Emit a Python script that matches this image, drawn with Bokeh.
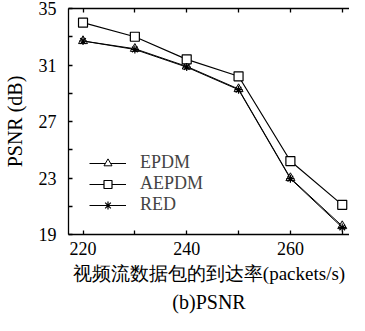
from bokeh.plotting import figure
from bokeh.models import (FixedTicker, LinearAxis, Range1d, Legend, LegendItem)
from bokeh.embed import file_html
from bokeh.resources import INLINE

# ---- data ----
rates = [220, 230, 240, 250, 260, 270]
epdm = [32.7, 32.15, 30.9, 29.3, 23.0, 19.6]
aepdm = [34.0, 33.0, 31.4, 30.2, 24.2, 21.1]
red = [32.7, 32.1, 30.85, 29.25, 22.95, 19.5]

y_ticks = [19, 21, 23, 25, 27, 29, 31, 33, 35]
y_labels = [19, 23, 27, 31, 35]
x_ticks = [220, 230, 240, 250, 260, 270]
x_labels = [220, 240, 260]

x_title = "视频流数据包的到达率(packets/s)"
y_title = "PSNR (dB)"
caption = "(b)PSNR"

SERIF = "Liberation Serif"

p = figure(width=349, height=315, output_backend="svg", toolbar_location=None,
           x_range=Range1d(217.2, 271.4), y_range=Range1d(19, 35),
           x_axis_location="below", y_axis_location="left",
           min_border_left=0, min_border_right=0, min_border_top=8, min_border_bottom=81)
p.outline_line_color = None
p.grid.visible = False
p.background_fill_color = "white"
p.border_fill_color = "white"

# axes
xa = p.xaxis[0]
xa.ticker = FixedTicker(ticks=x_ticks)
xa.major_label_overrides = {t: (str(t) if t in x_labels else "") for t in x_ticks}
xa.axis_label = x_title
ya = p.yaxis[0]
ya.ticker = FixedTicker(ticks=y_ticks)
ya.major_label_overrides = {t: (str(t) if t in y_labels else "") for t in y_ticks}
ya.axis_label = y_title

top = LinearAxis(ticker=FixedTicker(ticks=x_ticks),
                 major_label_overrides={t: "" for t in x_ticks})
p.add_layout(top, "above")

for ax in (xa, ya, top):
    ax.major_tick_in = 4
    ax.major_tick_out = 0
    ax.minor_tick_in = 0
    ax.minor_tick_out = 0
    ax.axis_line_width = 1.3
    ax.major_tick_line_width = 1.3
    ax.axis_line_color = "black"
    ax.major_tick_line_color = "black"
    ax.major_label_text_font = SERIF
    ax.major_label_text_font_size = "18px"
    ax.major_label_text_color = "black"
top.major_label_standoff = 0
top.major_label_text_font_size = "1px"
xa.major_label_standoff = 7
ya.major_label_standoff = 12
xa.axis_label_text_font = SERIF
xa.axis_label_text_font_size = "19px"
xa.axis_label_text_font_style = "normal"
xa.axis_label_text_color = "black"
xa.axis_label_standoff = 5
ya.axis_label_text_font = SERIF
ya.axis_label_text_font_size = "20px"
ya.axis_label_text_font_style = "normal"
ya.axis_label_text_color = "black"
ya.axis_label_standoff = 10

# caption below the x axis title, as the label of a bare extra axis
cap_axis = LinearAxis(ticker=FixedTicker(ticks=[]), axis_line_color=None,
                      major_tick_in=0, major_tick_out=0, minor_tick_in=0, minor_tick_out=0,
                      major_label_standoff=0, axis_label=caption, axis_label_standoff=4,
                      axis_label_text_font=SERIF, axis_label_text_font_size="20px",
                      axis_label_text_font_style="normal", axis_label_text_color="black")
p.add_layout(cap_axis, "below")

# series
l1 = p.line(rates, epdm, line_color="black", line_width=1)
m1 = p.scatter(rates, epdm, marker="triangle", size=9, line_color="black",
               fill_color="white", line_width=1)
l2 = p.line(rates, aepdm, line_color="black", line_width=1.2)
m2 = p.scatter(rates, aepdm, marker="square", size=9, line_color="black",
               fill_color="white", line_width=1.2)
l3 = p.line(rates, red, line_color="black", line_width=1)
m3 = p.scatter(rates, red, marker="asterisk", size=8, line_color="black", line_width=1.2)

legend = Legend(items=[LegendItem(label="EPDM", renderers=[l1, m1]),
                       LegendItem(label="AEPDM", renderers=[l2, m2]),
                       LegendItem(label="RED", renderers=[l3, m3])],
                location=(21, 19), padding=0, margin=0, spacing=0,
                glyph_width=37, glyph_height=20, label_height=20, label_standoff=14,
                label_text_font=SERIF, label_text_font_size="18px",
                border_line_color=None, background_fill_alpha=0)
p.add_layout(legend, "center")

open("out.html", "w").write(file_html(p, INLINE))
